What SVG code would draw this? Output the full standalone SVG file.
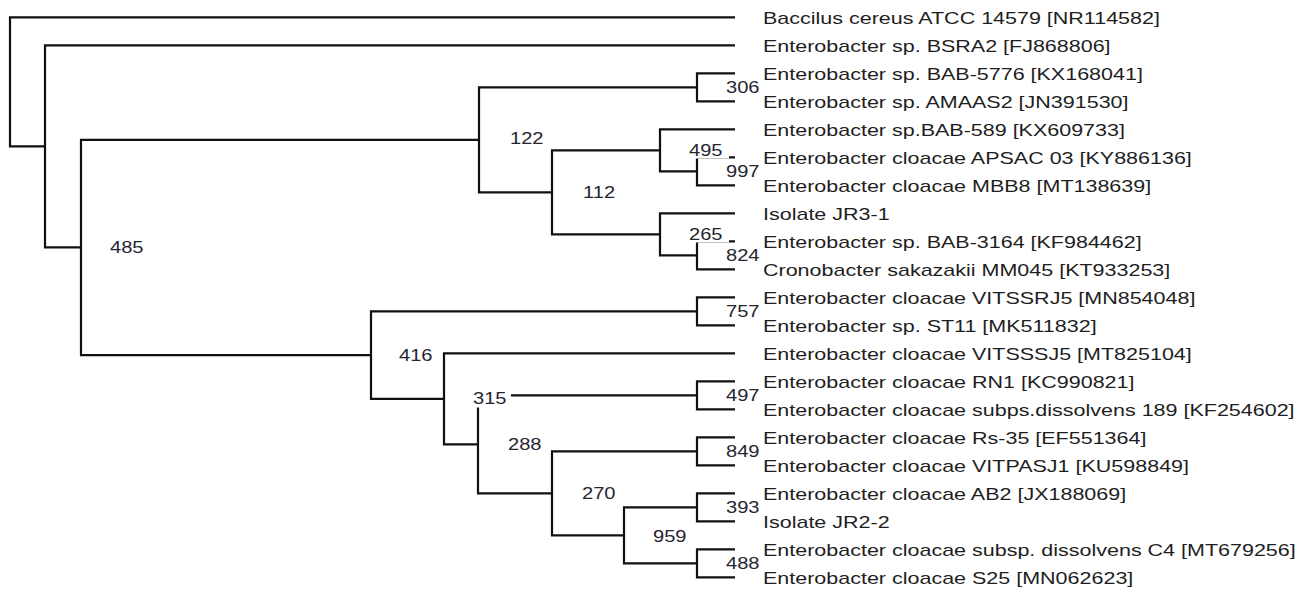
<svg xmlns="http://www.w3.org/2000/svg" width="1310" height="590" viewBox="0 0 1310 590">
<style>
.edge{fill:none;stroke:#111;stroke-width:2.2;stroke-linejoin:miter;stroke-linecap:butt}
.leaf{font-family:"Liberation Sans",Arial,sans-serif;font-size:16.8px;fill:#1e1e1e}
.bs{font-family:"Liberation Sans",Arial,sans-serif;font-size:16.5px;fill:#262630}
.bg{fill:#fff}
</style>
<rect width="1310" height="590" fill="#fff"/>
<g id="connectors">
<path class="edge" d="M735,17.3 H10 V146.35 H45"/>
<path class="edge" d="M735,45.3 H45 V247.4 H81"/>
<path class="edge" d="M479,139.8 H81 V355.05 H371"/>
<path class="edge" d="M697,87.3 H479 V192.3 H552"/>
<path class="edge" d="M735,73.3 H697 V101.3 H735"/>
<path class="edge" d="M660,150.3 H552 V234.3 H660"/>
<path class="edge" d="M735,129.3 H660 V171.3 H697"/>
<path class="edge" d="M735,157.3 H697 V185.3 H735"/>
<path class="edge" d="M735,213.3 H660 V255.3 H697"/>
<path class="edge" d="M735,241.3 H697 V269.3 H735"/>
<path class="edge" d="M697,311.3 H371 V398.8 H444"/>
<path class="edge" d="M735,297.3 H697 V325.3 H735"/>
<path class="edge" d="M735,353.3 H444 V444.3 H478"/>
<path class="edge" d="M697,395.3 H478 V493.3 H552"/>
<path class="edge" d="M735,381.3 H697 V409.3 H735"/>
<path class="edge" d="M697,451.3 H552 V535.3 H624"/>
<path class="edge" d="M735,437.3 H697 V465.3 H735"/>
<path class="edge" d="M697,507.3 H624 V563.3 H697"/>
<path class="edge" d="M735,493.3 H697 V521.3 H735"/>
<path class="edge" d="M735,549.3 H697 V577.3 H735"/>
</g>
<g id="leaf-0"><text class="leaf" transform="matrix(1.28 0 0 1 763 24.3)">Baccilus cereus ATCC 14579 [NR114582]</text></g>
<g id="leaf-1"><text class="leaf" transform="matrix(1.28 0 0 1 763 52.3)">Enterobacter sp. BSRA2 [FJ868806]</text></g>
<g id="leaf-2"><text class="leaf" transform="matrix(1.28 0 0 1 763 80.3)">Enterobacter sp. BAB-5776 [KX168041]</text></g>
<g id="leaf-3"><text class="leaf" transform="matrix(1.28 0 0 1 763 108.3)">Enterobacter sp. AMAAS2 [JN391530]</text></g>
<g id="leaf-4"><text class="leaf" transform="matrix(1.28 0 0 1 763 136.3)">Enterobacter sp.BAB-589 [KX609733]</text></g>
<g id="leaf-5"><text class="leaf" transform="matrix(1.28 0 0 1 763 164.3)">Enterobacter cloacae APSAC 03 [KY886136]</text></g>
<g id="leaf-6"><text class="leaf" transform="matrix(1.28 0 0 1 763 192.3)">Enterobacter cloacae MBB8 [MT138639]</text></g>
<g id="leaf-7"><text class="leaf" transform="matrix(1.28 0 0 1 763 220.3)">Isolate JR3-1</text></g>
<g id="leaf-8"><text class="leaf" transform="matrix(1.28 0 0 1 763 248.3)">Enterobacter sp. BAB-3164 [KF984462]</text></g>
<g id="leaf-9"><text class="leaf" transform="matrix(1.28 0 0 1 763 276.3)">Cronobacter sakazakii MM045 [KT933253]</text></g>
<g id="leaf-10"><text class="leaf" transform="matrix(1.28 0 0 1 763 304.3)">Enterobacter cloacae VITSSRJ5 [MN854048]</text></g>
<g id="leaf-11"><text class="leaf" transform="matrix(1.28 0 0 1 763 332.3)">Enterobacter sp. ST11 [MK511832]</text></g>
<g id="leaf-12"><text class="leaf" transform="matrix(1.28 0 0 1 763 360.3)">Enterobacter cloacae VITSSSJ5 [MT825104]</text></g>
<g id="leaf-13"><text class="leaf" transform="matrix(1.28 0 0 1 763 388.3)">Enterobacter cloacae RN1 [KC990821]</text></g>
<g id="leaf-14"><text class="leaf" transform="matrix(1.28 0 0 1 763 416.3)">Enterobacter cloacae subps.dissolvens 189 [KF254602]</text></g>
<g id="leaf-15"><text class="leaf" transform="matrix(1.28 0 0 1 763 444.3)">Enterobacter cloacae Rs-35 [EF551364]</text></g>
<g id="leaf-16"><text class="leaf" transform="matrix(1.28 0 0 1 763 472.3)">Enterobacter cloacae VITPASJ1 [KU598849]</text></g>
<g id="leaf-17"><text class="leaf" transform="matrix(1.28 0 0 1 763 500.3)">Enterobacter cloacae AB2 [JX188069]</text></g>
<g id="leaf-18"><text class="leaf" transform="matrix(1.28 0 0 1 763 528.3)">Isolate JR2-2</text></g>
<g id="leaf-19"><text class="leaf" transform="matrix(1.28 0 0 1 763 556.3)">Enterobacter cloacae subsp. dissolvens C4 [MT679256]</text></g>
<g id="leaf-20"><text class="leaf" transform="matrix(1.28 0 0 1 763 584.3)">Enterobacter cloacae S25 [MN062623]</text></g>
<g id="node-485"><text class="bs" transform="matrix(1.22 0 0 1 110 252.8)">485</text></g>
<g id="node-122"><text class="bs" transform="matrix(1.22 0 0 1 510 144)">122</text></g>
<g id="node-306"><text class="bs" transform="matrix(1.22 0 0 1 726 93.3)">306</text></g>
<g id="node-112"><text class="bs" transform="matrix(1.22 0 0 1 583 197.7)">112</text></g>
<g id="node-495"><rect class="bg" x="685" y="141" width="44" height="17.5"/><text class="bs" transform="matrix(1.22 0 0 1 689 156)">495</text></g>
<g id="node-997"><text class="bs" transform="matrix(1.22 0 0 1 726 176.8)">997</text></g>
<g id="node-265"><rect class="bg" x="685" y="225" width="44" height="17.5"/><text class="bs" transform="matrix(1.22 0 0 1 689 239.5)">265</text></g>
<g id="node-824"><text class="bs" transform="matrix(1.22 0 0 1 726 261)">824</text></g>
<g id="node-416"><text class="bs" transform="matrix(1.22 0 0 1 399 360.7)">416</text></g>
<g id="node-757"><text class="bs" transform="matrix(1.22 0 0 1 726 317.3)">757</text></g>
<g id="node-315"><rect class="bg" x="468" y="387" width="43" height="20.5"/><text class="bs" transform="matrix(1.22 0 0 1 473 404)">315</text></g>
<g id="node-497"><text class="bs" transform="matrix(1.22 0 0 1 726 401)">497</text></g>
<g id="node-288"><text class="bs" transform="matrix(1.22 0 0 1 508 449.5)">288</text></g>
<g id="node-849"><text class="bs" transform="matrix(1.22 0 0 1 726 457)">849</text></g>
<g id="node-270"><text class="bs" transform="matrix(1.22 0 0 1 582 498.5)">270</text></g>
<g id="node-393"><text class="bs" transform="matrix(1.22 0 0 1 726 513)">393</text></g>
<g id="node-959"><text class="bs" transform="matrix(1.22 0 0 1 653 541.5)">959</text></g>
<g id="node-488"><text class="bs" transform="matrix(1.22 0 0 1 726 569)">488</text></g>
</svg>
